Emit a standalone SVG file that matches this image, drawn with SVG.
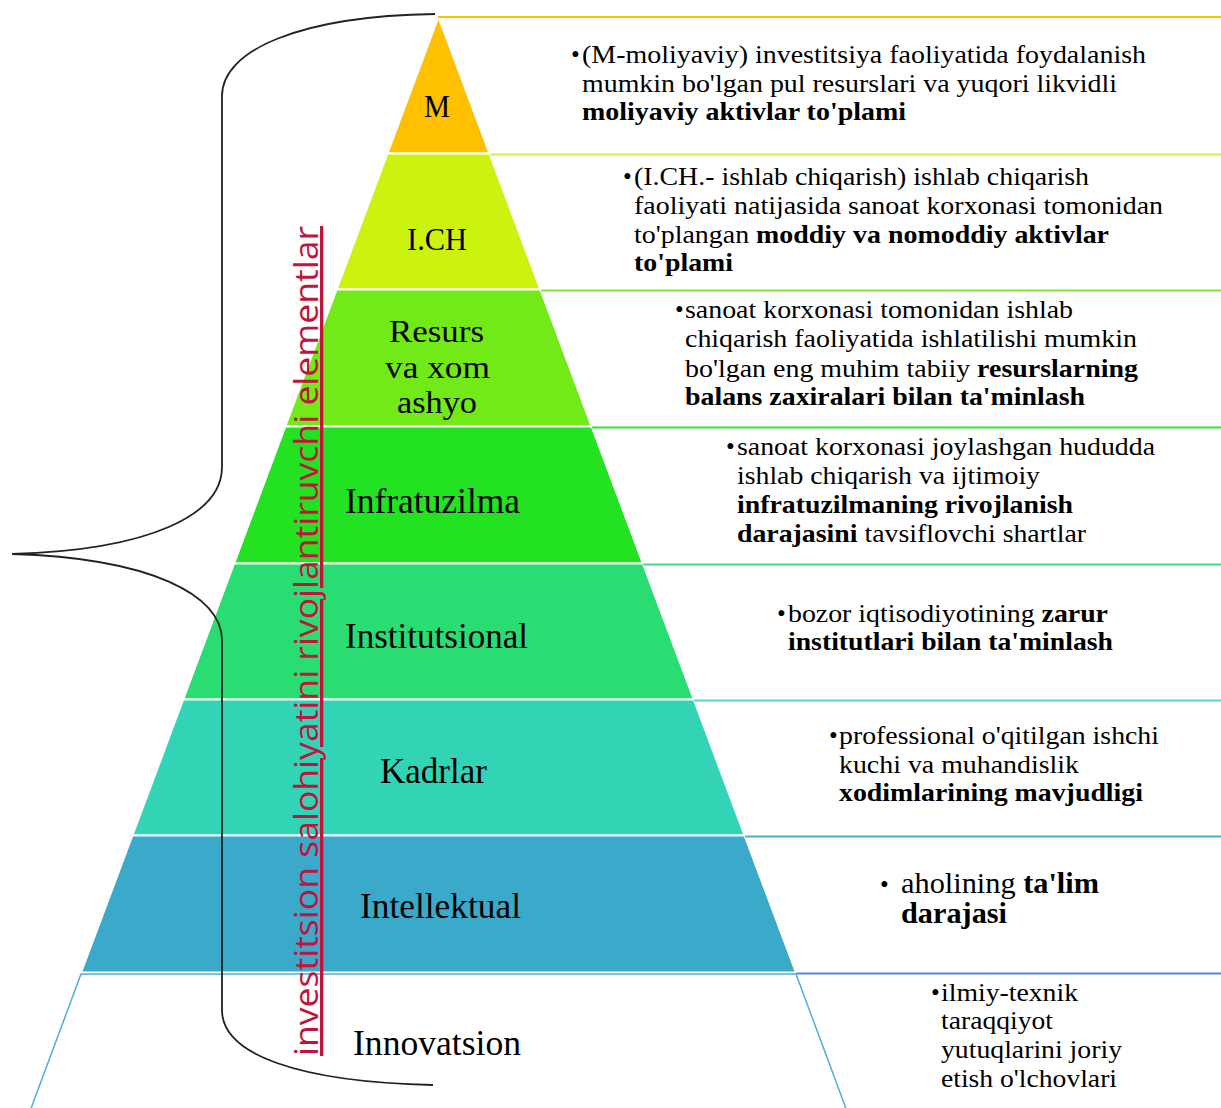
<svg xmlns="http://www.w3.org/2000/svg" width="1221" height="1108" viewBox="0 0 1221 1108">
<style>
.band{stroke:#ffffff;stroke-width:2;stroke-linejoin:round}
.lbl{font-family:"Liberation Serif","Times New Roman",serif;font-size:35px;fill:#000}
.sm{font-size:32px}
.t{font-family:"Liberation Serif","Times New Roman",serif;font-size:25px;fill:#000}
.big{font-size:29px}
.b{font-weight:bold}
.rule{stroke-width:2;fill:none}
.brace{fill:none;stroke:#222;stroke-width:1.8}
.vert{font-family:"Open Sans","Noto Sans",sans-serif;font-size:33px;fill:#C0143C}
</style>
<rect x="0" y="0" width="1221" height="1108" fill="#ffffff"/>

<g id="node-M">
<polygon class="band" fill="#FFC000" points="438.5,17 489.55,153.5 387.45,153.5"/>
<text class="lbl sm" x="424" y="117" textLength="26" lengthAdjust="spacingAndGlyphs">M</text>
<text class="t" x="571" y="63">•</text>
<text class="t" x="582" y="63" textLength="564" lengthAdjust="spacingAndGlyphs">(M-moliyaviy) investitsiya faoliyatida foydalanish</text>
<text class="t" x="582" y="92" textLength="535" lengthAdjust="spacingAndGlyphs">mumkin bo'lgan pul resurslari va yuqori likvidli</text>
<text class="t b" x="582" y="120" textLength="324" lengthAdjust="spacingAndGlyphs">moliyaviy aktivlar to'plami</text>
</g>

<g id="node-ICH">
<polygon class="band" fill="#CCF20F" points="387.45,153.5 489.55,153.5 540.4,289.5 336.6,289.5"/>
<text class="lbl sm" x="407" y="250" textLength="60" lengthAdjust="spacingAndGlyphs">I.CH</text>
<text class="t" x="623" y="185">•</text>
<text class="t" x="634" y="185" textLength="455" lengthAdjust="spacingAndGlyphs">(I.CH.- ishlab chiqarish) ishlab chiqarish</text>
<text class="t" x="634" y="214" textLength="529" lengthAdjust="spacingAndGlyphs">faoliyati natijasida sanoat korxonasi tomonidan</text>
<text class="t" x="634" y="243" textLength="475" lengthAdjust="spacingAndGlyphs">to'plangan <tspan class="b">moddiy va nomoddiy aktivlar</tspan></text>
<text class="t b" x="634" y="271" textLength="99" lengthAdjust="spacingAndGlyphs">to'plami</text>
</g>

<g id="node-Resurs">
<polygon class="band" fill="#72EA18" points="336.6,289.5 540.4,289.5 591.7,426.5 285.3,426.5"/>
<text class="lbl sm" x="389" y="342" textLength="95" lengthAdjust="spacingAndGlyphs">Resurs</text>
<text class="lbl sm" x="385" y="378" textLength="105" lengthAdjust="spacingAndGlyphs">va xom</text>
<text class="lbl sm" x="397" y="413" textLength="80" lengthAdjust="spacingAndGlyphs">ashyo</text>
<text class="t" x="675" y="318">•</text>
<text class="t" x="685" y="318" textLength="388" lengthAdjust="spacingAndGlyphs">sanoat korxonasi tomonidan ishlab</text>
<text class="t" x="685" y="347" textLength="452" lengthAdjust="spacingAndGlyphs">chiqarish faoliyatida ishlatilishi mumkin</text>
<text class="t" x="685" y="377" textLength="453" lengthAdjust="spacingAndGlyphs">bo'lgan eng muhim tabiiy <tspan class="b">resurslarning</tspan></text>
<text class="t b" x="685" y="405" textLength="400" lengthAdjust="spacingAndGlyphs">balans zaxiralari bilan ta'minlash</text>
</g>

<g id="node-Infratuzilma">
<polygon class="band" fill="#22E222" points="285.3,426.5 591.7,426.5 642.9,563.5 234.1,563.5"/>
<text class="lbl" x="345" y="513" textLength="175" lengthAdjust="spacingAndGlyphs">Infratuzilma</text>
<text class="t" x="726" y="455">•</text>
<text class="t" x="737" y="455" textLength="418" lengthAdjust="spacingAndGlyphs">sanoat korxonasi joylashgan hududda</text>
<text class="t" x="737" y="484" textLength="303" lengthAdjust="spacingAndGlyphs">ishlab chiqarish va ijtimoiy</text>
<text class="t b" x="737" y="513" textLength="336" lengthAdjust="spacingAndGlyphs">infratuzilmaning rivojlanish</text>
<text class="t" x="737" y="542" textLength="349" lengthAdjust="spacingAndGlyphs"><tspan class="b">darajasini</tspan> tavsiflovchi shartlar</text>
</g>

<g id="node-Institutsional">
<polygon class="band" fill="#29DD72" points="234.1,563.5 642.9,563.5 693.8,699.5 183.2,699.5"/>
<text class="lbl" x="345" y="648" textLength="183" lengthAdjust="spacingAndGlyphs">Institutsional</text>
<text class="t" x="777" y="622">•</text>
<text class="t" x="788" y="622" textLength="320" lengthAdjust="spacingAndGlyphs">bozor iqtisodiyotining <tspan class="b">zarur</tspan></text>
<text class="t b" x="788" y="650" textLength="325" lengthAdjust="spacingAndGlyphs">institutlari bilan ta'minlash</text>
</g>

<g id="node-Kadrlar">
<polygon class="band" fill="#32D4B5" points="183.2,699.5 693.8,699.5 744.6,835.5 132.4,835.5"/>
<text class="lbl" x="380" y="783" textLength="107" lengthAdjust="spacingAndGlyphs">Kadrlar</text>
<text class="t" x="829" y="744">•</text>
<text class="t" x="839" y="744" textLength="320" lengthAdjust="spacingAndGlyphs">professional o'qitilgan ishchi</text>
<text class="t" x="839" y="773" textLength="240" lengthAdjust="spacingAndGlyphs">kuchi va muhandislik</text>
<text class="t b" x="839" y="801" textLength="304" lengthAdjust="spacingAndGlyphs">xodimlarining mavjudligi</text>
</g>

<g id="node-Intellektual">
<polygon class="band" fill="#3BA9C9" points="132.4,835.5 744.6,835.5 795.9,972.5 81.1,972.5"/>
<text class="lbl" x="360" y="918" textLength="161" lengthAdjust="spacingAndGlyphs">Intellektual</text>
<text class="t" x="880" y="893">•</text>
<text class="t big" x="901" y="893" textLength="198" lengthAdjust="spacingAndGlyphs">aholining <tspan class="b">ta'lim</tspan></text>
<text class="t big b" x="901" y="923" textLength="106" lengthAdjust="spacingAndGlyphs">darajasi</text>
</g>

<g id="node-Innovatsion">
<polygon fill="#ffffff" stroke="#4AAEE0" stroke-width="1.5" points="81,974 796,974 847.3,1112 29.7,1112"/>
<text class="lbl" x="353" y="1055" textLength="168" lengthAdjust="spacingAndGlyphs">Innovatsion</text>
<text class="t" x="931" y="1001">•</text>
<text class="t" x="941" y="1001" textLength="137" lengthAdjust="spacingAndGlyphs">ilmiy-texnik</text>
<text class="t" x="941" y="1029" textLength="112" lengthAdjust="spacingAndGlyphs">taraqqiyot</text>
<text class="t" x="941" y="1058" textLength="181" lengthAdjust="spacingAndGlyphs">yutuqlarini joriy</text>
<text class="t" x="941" y="1087" textLength="176" lengthAdjust="spacingAndGlyphs">etish o'lchovlari</text>
</g>

<g id="connectors">
<line class="rule" stroke="#FFC000" x1="438" y1="17" x2="1221" y2="17"/>
<line class="rule" stroke="#CFF04A" x1="490" y1="154.5" x2="1221" y2="154.5"/>
<line class="rule" stroke="#7FE83E" x1="541" y1="290.5" x2="1221" y2="290.5"/>
<line class="rule" stroke="#33E033" x1="592" y1="427.5" x2="1221" y2="427.5"/>
<line class="rule" stroke="#40DC80" x1="643" y1="564.5" x2="1221" y2="564.5"/>
<line class="rule" stroke="#5AD8C6" x1="694" y1="700.5" x2="1221" y2="700.5"/>
<line class="rule" stroke="#4BB0D2" x1="745" y1="836.5" x2="1221" y2="836.5"/>
<line class="rule" stroke="#5B86D6" x1="796" y1="973.5" x2="1221" y2="973.5"/>
<path class="brace" d="M435,14 C300,16 222,50 222,96 L222,467 C222,515 150,550 12,554 C150,558 222,595 222,640 L222,1010 C222,1055 300,1082 433,1085"/>
</g>

<g id="side-label">
<text class="vert" transform="translate(318,1056) rotate(-90)" x="0" y="0" textLength="830" lengthAdjust="spacingAndGlyphs" text-decoration="underline">investitsion salohiyatini rivojlantiruvchi elementlar</text>
</g>
</svg>
